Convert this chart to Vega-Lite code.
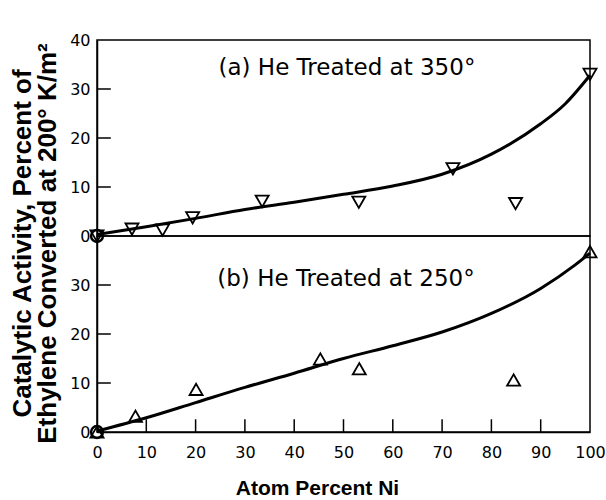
{
  "$schema": "https://vega.github.io/schema/vega-lite/v6.json",
  "background": "white",
  "padding": {"left": 8, "top": 31, "right": 12, "bottom": 5},
  "spacing": 0,
  "bounds": "flush",
  "datasets": {
    "pointsA": [
      {"x": 0, "y": 0}, {"x": 7.1, "y": 1.4}, {"x": 13.3, "y": 1.2}, {"x": 19.4, "y": 3.7},
      {"x": 33.5, "y": 7.1}, {"x": 53.1, "y": 6.9}, {"x": 72.2, "y": 13.7}, {"x": 84.9, "y": 6.6},
      {"x": 100, "y": 33.0}
    ],
    "curveA": [
      {"x": 0, "y": 0.3}, {"x": 10, "y": 1.9}, {"x": 20, "y": 3.6}, {"x": 30, "y": 5.4},
      {"x": 40, "y": 6.9}, {"x": 50, "y": 8.5}, {"x": 60, "y": 10.2}, {"x": 70, "y": 12.6},
      {"x": 80, "y": 16.7}, {"x": 90, "y": 22.9}, {"x": 95, "y": 27.0}, {"x": 100, "y": 32.8}
    ],
    "pointsB": [
      {"x": 0, "y": 0}, {"x": 7.8, "y": 3.2}, {"x": 20.1, "y": 8.7}, {"x": 45.3, "y": 14.9},
      {"x": 53.2, "y": 12.9}, {"x": 84.5, "y": 10.6}, {"x": 100, "y": 36.8}
    ],
    "curveB": [
      {"x": 0, "y": 0.2}, {"x": 10, "y": 2.9}, {"x": 20, "y": 6.0}, {"x": 30, "y": 9.1},
      {"x": 40, "y": 12.0}, {"x": 50, "y": 15.0}, {"x": 60, "y": 17.6}, {"x": 70, "y": 20.4},
      {"x": 80, "y": 24.2}, {"x": 90, "y": 29.3}, {"x": 97, "y": 34.1}, {"x": 100, "y": 36.5}
    ],
    "labelA": [{"x": 50.7, "y": 34.2, "text": "(a) He Treated at 350°"}],
    "labelB": [{"x": 50.5, "y": 31.3, "text": "(b) He Treated at 250°"}],
    "yticks": [{"v": 10}, {"v": 20}, {"v": 30}],
    "xticks": [{"v": 10}, {"v": 20}, {"v": 30}, {"v": 40}, {"v": 50}, {"v": 60}, {"v": 70}, {"v": 80}, {"v": 90}]
  },
  "config": {
    "view": {"stroke": "black", "strokeWidth": 1.5},
    "axis": {
      "grid": false,
      "ticks": false,
      "domainColor": "black",
      "domainWidth": 1.5,
      "labelColor": "black",
      "labelFont": "DejaVu Sans",
      "labelFontSize": 16,
      "titleColor": "black"
    }
  },
  "vconcat": [
    {
      "width": 493,
      "height": 196,
      "layer": [
        {
          "data": {"name": "curveA"},
          "mark": {"type": "line", "interpolate": "monotone", "color": "black", "strokeWidth": 3},
          "encoding": {
            "x": {"field": "x", "type": "quantitative", "scale": {"domain": [0, 100], "nice": false}, "axis": null},
            "y": {
              "field": "y", "type": "quantitative",
              "scale": {"domain": [0, 40], "nice": false},
              "axis": {
                "values": [0, 10, 20, 30, 40],
                "labelPadding": 7,
                "title": ["Catalytic Activity, Percent of", "Ethylene Converted at 200° K/m²"],
                "titleFont": "Liberation Sans",
                "titleFontWeight": "bold",
                "titleFontSize": 26,
                "titleY": 203,
                "titlePadding": 9,
                "titleLineHeight": 25
              }
            }
          }
        },
        {
          "data": {"name": "yticks"},
          "mark": {"type": "rule", "color": "black", "strokeWidth": 1.5},
          "encoding": {
            "x": {"datum": 0, "type": "quantitative"},
            "x2": {"datum": 2.8},
            "y": {"field": "v", "type": "quantitative"}
          }
        },
        {
          "data": {"name": "pointsA"},
          "mark": {"type": "point", "shape": "triangle-down", "filled": false, "color": "black", "opacity": 1, "strokeWidth": 1.8, "size": 170},
          "encoding": {
            "x": {"field": "x", "type": "quantitative"},
            "y": {"field": "y", "type": "quantitative"}
          }
        },
        {
          "data": {"name": "pointsA"},
          "transform": [{"filter": "datum.x == 0"}],
          "mark": {"type": "point", "shape": "circle", "filled": false, "color": "black", "opacity": 1, "strokeWidth": 2.5, "size": 140},
          "encoding": {
            "x": {"field": "x", "type": "quantitative"},
            "y": {"field": "y", "type": "quantitative"}
          }
        },
        {
          "data": {"name": "labelA"},
          "mark": {"type": "text", "font": "DejaVu Sans", "fontSize": 23, "color": "black", "align": "center", "baseline": "middle"},
          "encoding": {
            "x": {"field": "x", "type": "quantitative"},
            "y": {"field": "y", "type": "quantitative"},
            "text": {"field": "text"}
          }
        }
      ]
    },
    {
      "width": 493,
      "height": 196,
      "layer": [
        {
          "data": {"name": "curveB"},
          "mark": {"type": "line", "interpolate": "monotone", "color": "black", "strokeWidth": 3},
          "encoding": {
            "x": {
              "field": "x", "type": "quantitative",
              "scale": {"domain": [0, 100], "nice": false},
              "axis": {
                "values": [0, 10, 20, 30, 40, 50, 60, 70, 80, 90, 100],
                "labelPadding": 12,
                "labelFlush": false,
                "title": "Atom Percent Ni",
                "titleFont": "Liberation Sans",
                "titleFontWeight": "bold",
                "titleFontSize": 21,
                "titleX": 220,
                "titlePadding": 17
              }
            },
            "y": {
              "field": "y", "type": "quantitative",
              "scale": {"domain": [0, 40], "nice": false},
              "axis": {
                "values": [0, 10, 20, 30],
                "labelPadding": 7,
                "title": null
              }
            }
          }
        },
        {
          "data": {"name": "yticks"},
          "mark": {"type": "rule", "color": "black", "strokeWidth": 1.5},
          "encoding": {
            "x": {"datum": 0, "type": "quantitative"},
            "x2": {"datum": 2.8},
            "y": {"field": "v", "type": "quantitative"}
          }
        },
        {
          "data": {"name": "xticks"},
          "mark": {"type": "rule", "color": "black", "strokeWidth": 1.5},
          "encoding": {
            "x": {"field": "v", "type": "quantitative"},
            "y": {"datum": 0, "type": "quantitative"},
            "y2": {"datum": 2.6}
          }
        },
        {
          "data": {"name": "pointsB"},
          "mark": {"type": "point", "shape": "triangle-up", "filled": false, "color": "black", "opacity": 1, "strokeWidth": 1.8, "size": 170},
          "encoding": {
            "x": {"field": "x", "type": "quantitative"},
            "y": {"field": "y", "type": "quantitative"}
          }
        },
        {
          "data": {"name": "pointsB"},
          "transform": [{"filter": "datum.x == 0"}],
          "mark": {"type": "point", "shape": "circle", "filled": false, "color": "black", "opacity": 1, "strokeWidth": 2.5, "size": 140},
          "encoding": {
            "x": {"field": "x", "type": "quantitative"},
            "y": {"field": "y", "type": "quantitative"}
          }
        },
        {
          "data": {"name": "labelB"},
          "mark": {"type": "text", "font": "DejaVu Sans", "fontSize": 23, "color": "black", "align": "center", "baseline": "middle"},
          "encoding": {
            "x": {"field": "x", "type": "quantitative"},
            "y": {"field": "y", "type": "quantitative"},
            "text": {"field": "text"}
          }
        }
      ]
    }
  ]
}
